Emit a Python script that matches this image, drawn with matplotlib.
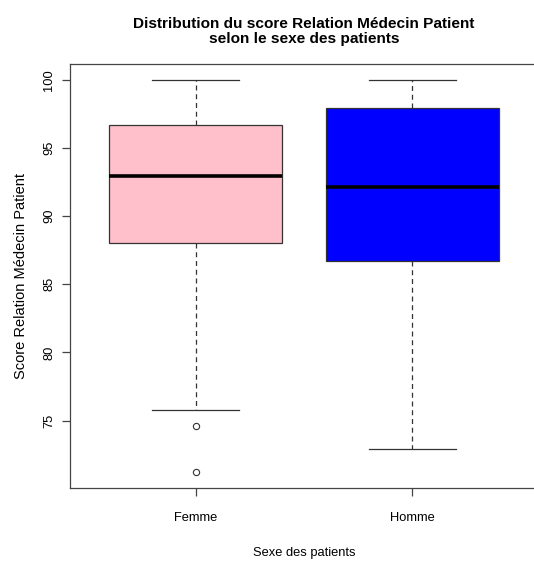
import matplotlib
matplotlib.use("Agg")
import matplotlib.pyplot as plt

plt.rcParams['font.family'] = ['Liberation Sans', 'DejaVu Sans']

# Données
groupes = ['Femme', 'Homme']
couleurs = ['#FFC0CB', '#0000FF']
min_moustache = [75.8, 72.9]
q1 = [88.0, 86.7]
mediane = [92.9, 92.1]
q3 = [96.7, 97.9]
max_moustache = [100.0, 100.0]
valeurs_aberrantes = [[74.6, 71.2], []]

stats = []
for i, nom in enumerate(groupes):
    stats.append({
        'label': nom,
        'whislo': min_moustache[i],
        'q1': q1[i],
        'med': mediane[i],
        'q3': q3[i],
        'whishi': max_moustache[i],
        'fliers': valeurs_aberrantes[i],
    })

fig = plt.figure(figsize=(5.34, 5.61), dpi=100)
ax = fig.add_axes([70 / 534, 73 / 561, 468 / 534, 424 / 561])

bp = ax.bxp(stats, positions=[1, 2], widths=0.8, patch_artist=True,
            boxprops=dict(edgecolor='#333333', linewidth=0.9),
            medianprops=dict(color='black', linewidth=2.6),
            whiskerprops=dict(color='#333333', linewidth=0.9, linestyle=(0, (4, 3))),
            capprops=dict(color='#333333', linewidth=0.9),
            capwidths=0.4,
            flierprops=dict(marker='o', markerfacecolor='none', markeredgecolor='#333333',
                            markersize=4.5, markeredgewidth=0.8))
for patch, c in zip(bp['boxes'], couleurs):
    patch.set_facecolor(c)

ax.set_xlim(0.42, 2.58)
ax.set_ylim(70.05, 101.15)
ax.set_yticks([75, 80, 85, 90, 95, 100])
ax.set_yticklabels(['75', '80', '85', '90', '95', '100'], rotation=90, va='center')
ax.set_xticks([1, 2])
ax.set_xticklabels(groupes)

for s in ax.spines.values():
    s.set_color('#444444')
    s.set_linewidth(0.9)
ax.spines['right'].set_visible(False)
ax.tick_params(axis='both', length=6, width=0.9, color='#444444', labelsize=9.3)
ax.tick_params(axis='x', pad=11)
ax.tick_params(axis='y', pad=4.5)

ax.set_title('Distribution du score Relation Médecin Patient\nselon le sexe des patients',
             fontsize=11.1, fontweight='bold', pad=15, linespacing=1.15)
ax.set_xlabel('Sexe des patients', fontsize=9.3, labelpad=17)
ax.set_ylabel('Score Relation Médecin Patient', fontsize=10.5, labelpad=11)

fig.savefig('out.png', dpi=100)
